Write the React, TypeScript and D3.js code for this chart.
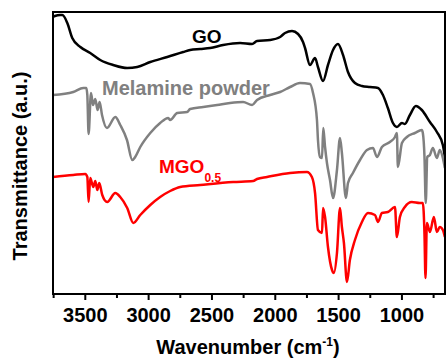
import React from "react";
import * as d3 from "d3";

// FTIR spectra: wavenumber (cm^-1) vs transmittance (a.u., offset traces)
const goSpectrum: [number, number][] = [
  [3755, 277], [3740, 278], [3697, 279], [3681, 279], [3642, 271], [3603, 256],
  [3539, 247], [3461, 241], [3382, 234], [3279, 229], [3169, 226], [3090, 227],
  [2987, 232], [2853, 237], [2727, 242], [2672, 244], [2593, 245], [2514, 246],
  [2412, 249], [2278, 251], [2183, 250], [2144, 253], [2041, 254], [1962, 257],
  [1923, 261], [1868, 263], [1820, 260], [1781, 252], [1765, 246], [1726, 229],
  [1686, 236], [1663, 227], [1623, 213], [1584, 229], [1544, 244], [1505, 250],
  [1465, 239], [1426, 222], [1371, 211], [1316, 208], [1252, 207], [1189, 206],
  [1150, 199], [1111, 186], [1071, 171], [1040, 167], [1000, 171], [977, 170],
  [937, 179], [890, 188], [843, 184], [779, 172], [724, 162], [677, 149], [661, 137],
];

const melamineSpectrum: [number, number][] = [
  [3755, 199], [3595, 202], [3516, 206], [3492, 206], [3484, 199], [3474, 160],
  [3455, 201], [3439, 189], [3421, 195], [3403, 184], [3387, 192], [3368, 179],
  [3329, 166], [3263, 177], [3224, 169], [3171, 154], [3129, 134], [3106, 137],
  [3066, 147], [2987, 161], [2909, 171], [2845, 176], [2830, 174], [2774, 181],
  [2696, 182], [2672, 185], [2569, 187], [2459, 189], [2357, 191], [2254, 192],
  [2183, 189], [2144, 194], [2041, 199], [1962, 202], [1883, 207], [1805, 211],
  [1726, 210], [1702, 201], [1671, 174], [1663, 154], [1647, 137], [1631, 136],
  [1621, 166], [1607, 147], [1592, 131], [1568, 114], [1544, 96], [1513, 124],
  [1489, 156], [1474, 141], [1442, 96], [1426, 111], [1387, 121], [1331, 134],
  [1276, 144], [1229, 146], [1197, 137], [1158, 147], [1095, 152], [1055, 157],
  [1040, 161], [1032, 127], [1000, 151], [961, 157], [898, 161], [843, 164],
  [835, 161], [822, 137], [812, 91], [800, 137], [779, 139], [756, 146],
  [724, 136], [701, 144], [677, 136], [661, 126],
];

const mgoSpectrum: [number, number][] = [
  [3755, 117], [3595, 119], [3500, 120], [3484, 117], [3474, 92], [3461, 116],
  [3437, 107], [3421, 113], [3405, 104], [3390, 111], [3366, 99], [3327, 92],
  [3263, 101], [3224, 97], [3169, 86], [3121, 71], [3066, 79], [2987, 89],
  [2909, 97], [2830, 103], [2751, 107], [2593, 109], [2333, 112], [2175, 113],
  [2144, 115], [2065, 117], [1883, 121], [1750, 122], [1711, 117], [1686, 101],
  [1663, 64], [1631, 61], [1623, 86], [1607, 77], [1584, 47], [1552, 24],
  [1537, 21], [1513, 41], [1489, 86], [1474, 67], [1458, 51], [1434, 12],
  [1411, 34], [1371, 54], [1316, 72], [1268, 81], [1213, 79], [1189, 72],
  [1158, 81], [1111, 82], [1055, 87], [1040, 57], [1016, 77], [977, 87],
  [922, 92], [859, 91], [835, 91], [822, 60], [814, 16], [803, 71], [779, 62],
  [748, 77], [724, 62], [701, 67], [677, 64], [661, 57],
];

const majorTicks = [3500, 3000, 2500, 2000, 1500, 1000];
const minorTicks = [3750, 3250, 2750, 2250, 1750, 1250, 750];

const FONT = "'Liberation Sans', Arial, Helvetica, sans-serif";

export default function App() {
  const width = 446;
  const height = 362;
  const left = 53;
  const right = 445;
  const top = 12;
  const bottom = 294;

  const x = d3.scaleLinear().domain([3755, 660]).range([left, right]);
  const y = d3.scaleLinear().domain([0, 282]).range([bottom, top]);

  const line = d3
    .line<[number, number]>()
    .x((d) => x(d[0]))
    .y((d) => y(d[1]))
    .curve(d3.curveMonotoneX);

  const series = [
    { data: goSpectrum, color: "#000000" },
    { data: melamineSpectrum, color: "#808080" },
    { data: mgoSpectrum, color: "#ff0000" },
  ];

  return (
    <svg
      width={width}
      height={height}
      style={{ position: "absolute", left: 0, top: 0, background: "#fff" }}
      fontFamily={FONT}
    >
      <defs>
        <clipPath id="plot-clip">
          <rect x={left} y={top} width={right - left} height={bottom - top} />
        </clipPath>
      </defs>
      <rect x={0} y={0} width={width} height={height} fill="#fff" />

      <g clipPath="url(#plot-clip)">
        {series.map((s, i) => (
          <path
            key={i}
            d={line(s.data) ?? ""}
            fill="none"
            stroke={s.color}
            strokeWidth={2.5}
            strokeLinejoin="round"
          />
        ))}
      </g>

      <rect
        x={left}
        y={top}
        width={right - left}
        height={bottom - top}
        fill="none"
        stroke="#000"
        strokeWidth={2}
      />

      {majorTicks.map((t) => (
        <g key={t}>
          <line x1={x(t)} x2={x(t)} y1={bottom} y2={bottom + 6} stroke="#000" strokeWidth={2} />
          <text
            x={x(t)}
            y={322}
            textAnchor="middle"
            fontSize={20}
            fontWeight="bold"
          >
            {t}
          </text>
        </g>
      ))}
      {minorTicks.map((t) => (
        <line key={t} x1={x(t)} x2={x(t)} y1={bottom} y2={bottom + 4} stroke="#000" strokeWidth={2} />
      ))}

      <text x={192} y={43} fontSize={19} fontWeight="bold" fill="#000">
        GO
      </text>
      <text x={102} y={95} fontSize={20} fontWeight="bold" fill="#808080">
        Melamine powder
      </text>
      <text x={159} y={173} fontSize={19} fontWeight="bold" fill="#ff0000">
        MGO
        <tspan fontSize={12} dy={9}>0.5</tspan>
      </text>

      <text x={248} y={354} textAnchor="middle" fontSize={20} fontWeight="bold">
        Wavenumber (cm
        <tspan fontSize={12} dy={-8}>-1</tspan>
        <tspan dy={8}>)</tspan>
      </text>
      <text
        transform="translate(27,166) rotate(-90)"
        textAnchor="middle"
        fontSize={20}
        fontWeight="bold"
      >
        Transmittance (a.u.)
      </text>
    </svg>
  );
}
